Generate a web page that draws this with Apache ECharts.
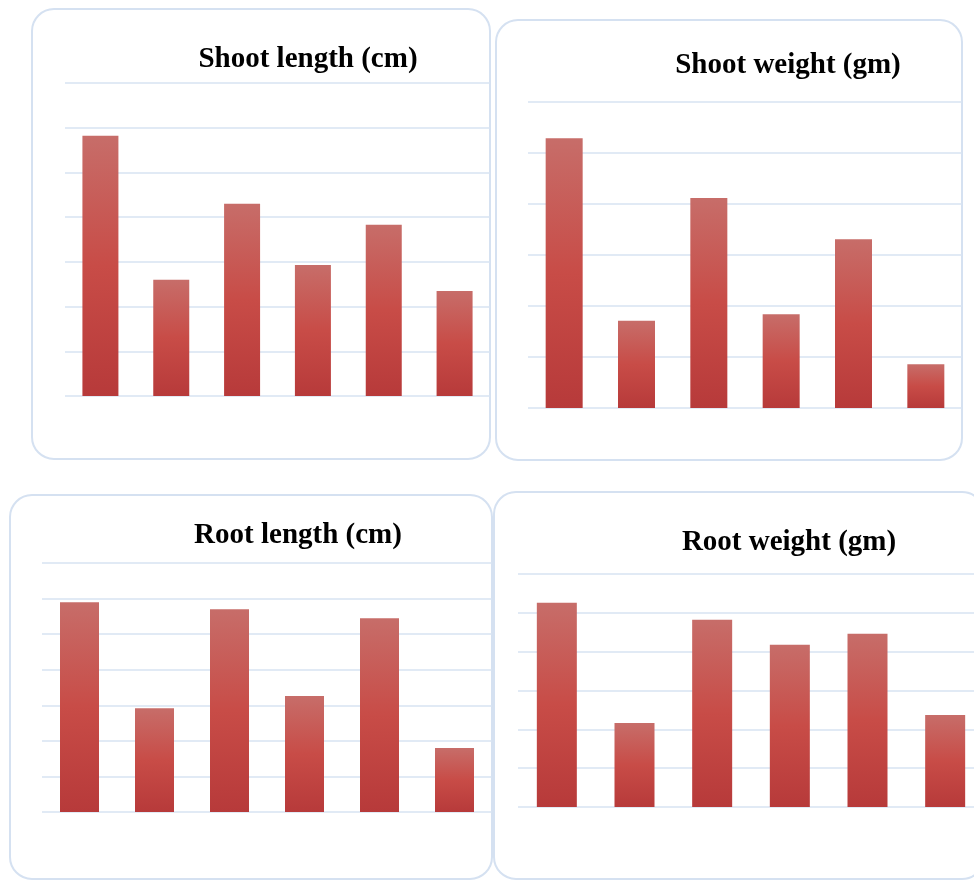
<!DOCTYPE html>
<html>
<head>
<meta charset="utf-8">
<script src="https://cdn.jsdelivr.net/npm/echarts@6/dist/echarts.min.js"></script>
<style>
html,body{margin:0;padding:0;background:#fff;}
#c{width:974px;height:881px;}
</style>
</head>
<body>
<div id="c"></div>
<script>
// Data (values in gridline units; no axis labels shown)
const categories = ['T1', 'T2', 'T3', 'T4', 'T5', 'T6'];
const titles = ['Shoot length (cm)', 'Shoot weight (gm)', 'Root length (cm)', 'Root weight (gm)'];
const shootLength = [5.82, 2.60, 4.30, 2.93, 3.83, 2.35];
const shootWeight = [5.29, 1.71, 4.12, 1.84, 3.31, 0.86];
const rootLength = [5.90, 2.92, 5.70, 3.26, 5.45, 1.80];
const rootWeight = [5.26, 2.16, 4.82, 4.18, 4.46, 2.37];
const axisMax = [7, 6, 7, 6];

const seriesData = [shootLength, shootWeight, rootLength, rootWeight];

// layout
const grids = [
  {left: 65, top: 83, width: 425, height: 313},
  {left: 528, top: 102, width: 434, height: 306},
  {left: 42, top: 563, width: 450, height: 249},
  {left: 518, top: 574, width: 466, height: 233}
];
const boxes = [
  {x: 32, y: 9, w: 458, h: 450},
  {x: 496, y: 20, w: 466, h: 440},
  {x: 10, y: 495, w: 482, h: 384},
  {x: 494, y: 492, w: 490, h: 387}
];
const titlePos = [[308, 60], [788, 66], [298, 536], [789, 543]];
const barWidths = [36, 37, 39, 40];

const chart = echarts.init(document.getElementById('c'));
const gridColor = '#d7e3f2';

const option = {
  animation: false,
  backgroundColor: '#fff',
  grid: grids.map(g => Object.assign({containLabel: false, outerBoundsMode: 'none'}, g)),
  xAxis: grids.map((g, i) => ({
    type: 'category', gridIndex: i, data: categories,
    axisLine: {show: false}, axisTick: {show: false}, axisLabel: {show: false},
    splitLine: {show: false}
  })),
  yAxis: grids.map((g, i) => ({
    type: 'value', gridIndex: i, min: 0, max: axisMax[i], interval: 1,
    axisLine: {show: false}, axisTick: {show: false}, axisLabel: {show: false},
    splitLine: {show: true, lineStyle: {color: gridColor, width: 1.6}}
  })),
  series: seriesData.map((d, i) => ({
    type: 'bar', xAxisIndex: i, yAxisIndex: i, data: d,
    barWidth: barWidths[i],
    itemStyle: {
      color: new echarts.graphic.LinearGradient(0, 0, 0, 1, [
        {offset: 0, color: '#c76d69'},
        {offset: 0.5, color: '#c84c47'},
        {offset: 1, color: '#b73a3a'}
      ])
    }
  })),
  graphic: [
    ...boxes.map(b => ({
      type: 'rect', z: -1,
      shape: {x: b.x, y: b.y, width: b.w, height: b.h, r: 22},
      style: {fill: 'none', stroke: '#d5e1f1', lineWidth: 2}
    })),
    ...titles.map((t, i) => ({
      type: 'text', x: titlePos[i][0], y: titlePos[i][1],
      style: {
        text: t, fill: '#000',
        font: 'bold 29px "Liberation Serif", "Times New Roman", serif',
        textAlign: 'center', textVerticalAlign: 'middle'
      }
    }))
  ]
};
chart.setOption(option);
</script>
</body>
</html>
